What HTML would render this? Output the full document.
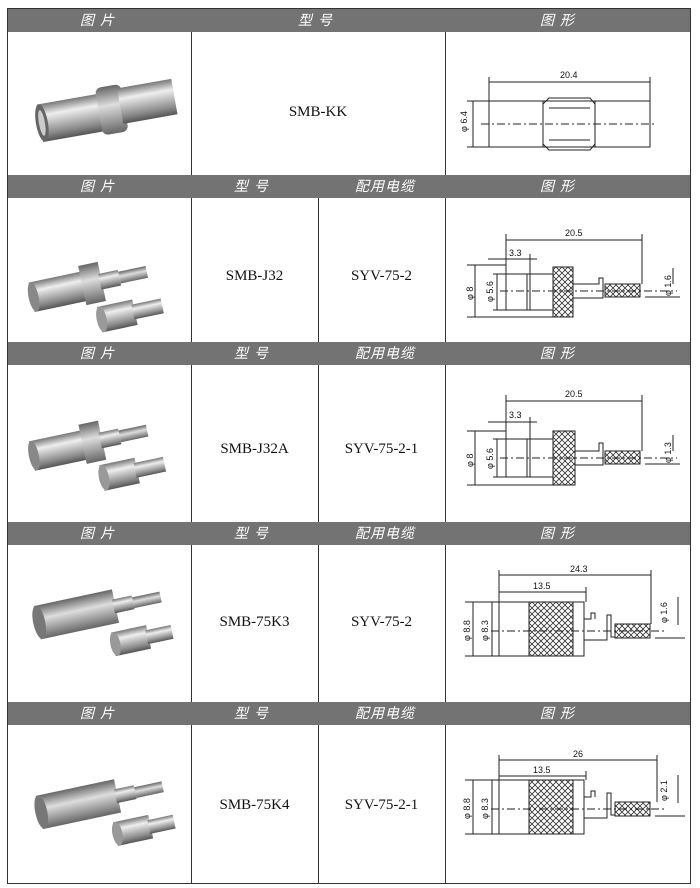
<!DOCTYPE html>
<html><head><meta charset="utf-8"><style>
body{margin:0;width:700px;height:888px;background:#fff;position:relative;overflow:hidden;font-family:"Liberation Serif","Noto Serif CJK SC",serif}
.a{position:absolute;box-sizing:border-box}
.hd{background:#737373;color:#fff;font-family:"Liberation Sans","Noto Sans CJK SC",sans-serif;font-style:italic;font-size:14px;letter-spacing:6px;text-align:center;line-height:22px;height:23px}
.t{font-size:15px;text-align:center;color:#111}
.vl{position:absolute;width:1px;background:#333}
svg text{font-family:"Liberation Sans",sans-serif;font-size:9px;fill:#111}
</style></head><body>
<svg width="0" height="0" style="position:absolute">
<defs>
<pattern id="kn" width="6" height="6" patternUnits="userSpaceOnUse"><rect width="6" height="6" fill="#fff"/><path d="M0 0L6 6M6 0L0 6" stroke="#333" stroke-width="0.8"/></pattern>
<linearGradient id="met" x1="0" y1="0" x2="0" y2="1"><stop offset="0" stop-color="#777"/><stop offset="0.3" stop-color="#eee"/><stop offset="0.55" stop-color="#bbb"/><stop offset="0.8" stop-color="#888"/><stop offset="1" stop-color="#555"/></linearGradient>
<linearGradient id="met2" x1="0" y1="0" x2="0" y2="1"><stop offset="0" stop-color="#666"/><stop offset="0.4" stop-color="#ddd"/><stop offset="1" stop-color="#666"/></linearGradient>
</defs></svg>

<div class="a" style="left:7px;top:8px;width:684px;height:876px;border:1.5px solid #333"></div>

<div class="a hd" style="left:8px;top:9px;width:682px"></div>
<div class="a hd" style="left:8px;top:175px;width:682px"></div>
<div class="a hd" style="left:8px;top:342px;width:682px"></div>
<div class="a hd" style="left:8px;top:522px;width:682px"></div>
<div class="a hd" style="left:8px;top:702px;width:682px"></div>

<div class="a hd" style="left:50px;top:9px;width:100px;background:none">图片</div>
<div class="a hd" style="left:268px;top:9px;width:100px;background:none">型号</div>
<div class="a hd" style="left:510px;top:9px;width:100px;background:none">图形</div>

<div class="a hd" style="left:50px;top:175px;width:100px;background:none">图片</div>
<div class="a hd" style="left:204px;top:175px;width:100px;background:none">型号</div>
<div class="a hd" style="left:330px;top:175px;width:110px;background:none;letter-spacing:1px">配用电缆</div>
<div class="a hd" style="left:510px;top:175px;width:100px;background:none">图形</div>

<div class="a hd" style="left:50px;top:342px;width:100px;background:none">图片</div>
<div class="a hd" style="left:204px;top:342px;width:100px;background:none">型号</div>
<div class="a hd" style="left:330px;top:342px;width:110px;background:none;letter-spacing:1px">配用电缆</div>
<div class="a hd" style="left:510px;top:342px;width:100px;background:none">图形</div>

<div class="a hd" style="left:50px;top:522px;width:100px;background:none">图片</div>
<div class="a hd" style="left:204px;top:522px;width:100px;background:none">型号</div>
<div class="a hd" style="left:330px;top:522px;width:110px;background:none;letter-spacing:1px">配用电缆</div>
<div class="a hd" style="left:510px;top:522px;width:100px;background:none">图形</div>

<div class="a hd" style="left:50px;top:702px;width:100px;background:none">图片</div>
<div class="a hd" style="left:204px;top:702px;width:100px;background:none">型号</div>
<div class="a hd" style="left:330px;top:702px;width:110px;background:none;letter-spacing:1px">配用电缆</div>
<div class="a hd" style="left:510px;top:702px;width:100px;background:none">图形</div>

<div class="vl" style="left:191px;top:32px;height:143px"></div>
<div class="vl" style="left:445px;top:32px;height:143px"></div>
<div class="vl" style="left:191px;top:198px;height:144px"></div>
<div class="vl" style="left:318px;top:198px;height:144px"></div>
<div class="vl" style="left:445px;top:198px;height:144px"></div>
<div class="vl" style="left:191px;top:365px;height:157px"></div>
<div class="vl" style="left:318px;top:365px;height:157px"></div>
<div class="vl" style="left:445px;top:365px;height:157px"></div>
<div class="vl" style="left:191px;top:545px;height:157px"></div>
<div class="vl" style="left:318px;top:545px;height:157px"></div>
<div class="vl" style="left:445px;top:545px;height:157px"></div>
<div class="vl" style="left:191px;top:725px;height:158px"></div>
<div class="vl" style="left:318px;top:725px;height:158px"></div>
<div class="vl" style="left:445px;top:725px;height:158px"></div>

<div class="a t" style="left:191px;top:104px;width:254px">SMB-KK</div>
<div class="a t" style="left:191px;top:268px;width:127px">SMB-J32</div>
<div class="a t" style="left:318px;top:268px;width:127px">SYV-75-2</div>
<div class="a t" style="left:191px;top:441px;width:127px">SMB-J32A</div>
<div class="a t" style="left:318px;top:441px;width:127px">SYV-75-2-1</div>
<div class="a t" style="left:191px;top:614px;width:127px">SMB-75K3</div>
<div class="a t" style="left:318px;top:614px;width:127px">SYV-75-2</div>
<div class="a t" style="left:191px;top:797px;width:127px">SMB-75K4</div>
<div class="a t" style="left:318px;top:797px;width:127px">SYV-75-2-1</div>

<svg class="a" style="left:8px;top:32px" width="183" height="143">
<g transform="rotate(-10 90 75)">
<rect x="30" y="62" width="65" height="38" fill="url(#met)"/>
<rect x="90" y="56" width="26" height="48" rx="6" fill="url(#met2)"/>
<rect x="112" y="60" width="55" height="36" fill="url(#met)"/>
<ellipse cx="32" cy="81" rx="6" ry="19" fill="#666"/>
<ellipse cx="32" cy="81" rx="3" ry="13" fill="#ccc"/>
</g></svg>

<svg class="a" style="left:8px;top:198px" width="183" height="144">
<g transform="rotate(-12 90 75)">
<rect x="20" y="70" width="55" height="30" fill="url(#met)"/>
<rect x="72" y="64" width="20" height="40" fill="url(#met2)"/>
<ellipse cx="22" cy="85" rx="5" ry="15" fill="#888"/>
<rect x="90" y="76" width="20" height="16" fill="url(#met)"/>
<rect x="110" y="78" width="28" height="12" fill="url(#met2)"/>
<rect x="82" y="108" width="36" height="26" fill="url(#met)"/>
<rect x="116" y="113" width="30" height="15" fill="url(#met)"/>
<ellipse cx="84" cy="121" rx="5" ry="13" fill="#999"/>
</g></svg>

<svg class="a" style="left:8px;top:365px" width="183" height="157">
<g transform="rotate(-12 90 75)">
<rect x="22" y="62" width="55" height="30" fill="url(#met)"/>
<rect x="74" y="56" width="20" height="40" fill="url(#met2)"/>
<ellipse cx="24" cy="77" rx="5" ry="15" fill="#888"/>
<rect x="92" y="68" width="20" height="16" fill="url(#met)"/>
<rect x="112" y="70" width="28" height="12" fill="url(#met2)"/>
<rect x="86" y="100" width="36" height="26" fill="url(#met)"/>
<rect x="120" y="105" width="30" height="15" fill="url(#met)"/>
<ellipse cx="88" cy="113" rx="5" ry="13" fill="#999"/>
</g></svg>

<svg class="a" style="left:8px;top:545px" width="183" height="157">
<g transform="rotate(-12 90 75)">
<rect x="30" y="48" width="80" height="34" fill="url(#met2)"/>
<ellipse cx="32" cy="65" rx="6" ry="17" fill="#777"/>
<rect x="108" y="58" width="20" height="14" fill="url(#met)"/>
<rect x="128" y="60" width="28" height="11" fill="url(#met2)"/>
<rect x="100" y="90" width="36" height="24" fill="url(#met)"/>
<rect x="134" y="95" width="26" height="14" fill="url(#met)"/>
<ellipse cx="102" cy="102" rx="5" ry="12" fill="#999"/>
</g></svg>

<svg class="a" style="left:8px;top:725px" width="183" height="158">
<g transform="rotate(-12 90 75)">
<rect x="30" y="58" width="80" height="34" fill="url(#met2)"/>
<ellipse cx="32" cy="75" rx="6" ry="17" fill="#777"/>
<rect x="108" y="68" width="20" height="14" fill="url(#met)"/>
<rect x="128" y="70" width="28" height="11" fill="url(#met2)"/>
<rect x="100" y="100" width="36" height="24" fill="url(#met)"/>
<rect x="134" y="105" width="26" height="14" fill="url(#met)"/>
<ellipse cx="102" cy="112" rx="5" ry="12" fill="#999"/>
</g></svg>

<svg class="a" style="left:445px;top:32px" width="245" height="143" fill="none" stroke="#222" stroke-width="1">
<rect x="44" y="69" width="161" height="46"/>
<line x1="98" y1="69" x2="98" y2="115"/><line x1="150" y1="69" x2="150" y2="115"/>
<path d="M104 66H145L150 72V112L145 118H104L98 112V72Z"/>
<line x1="104" y1="76" x2="145" y2="76"/><line x1="104" y1="108" x2="145" y2="108"/>
<line x1="36" y1="92" x2="212" y2="92" stroke-dasharray="8 3 2 3"/>
<line x1="44" y1="45" x2="44" y2="69"/><line x1="205" y1="45" x2="205" y2="69"/>
<line x1="44" y1="50" x2="205" y2="50"/>
<line x1="22" y1="69" x2="44" y2="69"/><line x1="22" y1="115" x2="44" y2="115"/>
<line x1="28" y1="69" x2="28" y2="115"/>
<text x="115" y="46" stroke="none">20.4</text>
<text x="0" y="0" stroke="none" transform="translate(22 100) rotate(-90)">φ 6.4</text>
</svg>

<svg class="a" style="left:445px;top:198px" width="245" height="144" fill="none" stroke="#222" stroke-width="1">
<rect x="61" y="76" width="47" height="36"/><line x1="82" y1="76" x2="82" y2="112"/><line x1="85" y1="76" x2="85" y2="112"/>
<rect x="108" y="69" width="20" height="50" fill="url(#kn)"/>
<path d="M128 86H154V80H158V100H128"/>
<rect x="160" y="86" width="35" height="13" fill="url(#kn)"/>
<line x1="55" y1="93" x2="232" y2="93" stroke-dasharray="8 3 2 3"/>
<line x1="61" y1="36" x2="61" y2="76"/><line x1="197" y1="36" x2="197" y2="86"/><line x1="61" y1="42" x2="197" y2="42"/>
<line x1="43" y1="61" x2="92" y2="61"/><line x1="85" y1="56" x2="85" y2="76"/>
<line x1="22" y1="67" x2="61" y2="67"/><line x1="22" y1="119" x2="108" y2="119"/><line x1="30" y1="67" x2="30" y2="119"/>
<line x1="48" y1="76" x2="61" y2="76"/><line x1="48" y1="112" x2="61" y2="112"/><line x1="52" y1="76" x2="52" y2="112"/>
<line x1="228" y1="70" x2="228" y2="86"/><line x1="200" y1="99" x2="235" y2="99"/>
<text x="120" y="38" stroke="none">20.5</text><text x="64" y="58" stroke="none">3.3</text>
<text stroke="none" transform="translate(28 102) rotate(-90)">φ 8</text>
<text stroke="none" transform="translate(48 104) rotate(-90)">φ 5.6</text>
<text stroke="none" transform="translate(226 98) rotate(-90)">φ 1.6</text>
</svg>

<svg class="a" style="left:445px;top:365px" width="245" height="157" fill="none" stroke="#222" stroke-width="1">
<rect x="61" y="74" width="47" height="38"/><line x1="82" y1="74" x2="82" y2="112"/><line x1="85" y1="74" x2="85" y2="112"/>
<rect x="108" y="66" width="22" height="54" fill="url(#kn)"/>
<path d="M130 86H154V78H158V100H130"/>
<rect x="160" y="86" width="35" height="13" fill="url(#kn)"/>
<line x1="55" y1="93" x2="232" y2="93" stroke-dasharray="8 3 2 3"/>
<line x1="61" y1="30" x2="61" y2="74"/><line x1="197" y1="30" x2="197" y2="86"/><line x1="61" y1="36" x2="197" y2="36"/>
<line x1="43" y1="57" x2="92" y2="57"/><line x1="85" y1="52" x2="85" y2="74"/>
<line x1="22" y1="66" x2="61" y2="66"/><line x1="22" y1="120" x2="108" y2="120"/><line x1="30" y1="66" x2="30" y2="120"/>
<line x1="48" y1="74" x2="61" y2="74"/><line x1="48" y1="112" x2="61" y2="112"/><line x1="52" y1="74" x2="52" y2="112"/>
<line x1="228" y1="70" x2="228" y2="86"/><line x1="200" y1="99" x2="235" y2="99"/>
<text x="120" y="32" stroke="none">20.5</text><text x="64" y="53" stroke="none">3.3</text>
<text stroke="none" transform="translate(28 102) rotate(-90)">φ 8</text>
<text stroke="none" transform="translate(48 104) rotate(-90)">φ 5.6</text>
<text stroke="none" transform="translate(226 98) rotate(-90)">φ 1.3</text>
</svg>

<svg class="a" style="left:445px;top:545px" width="245" height="157" fill="none" stroke="#222" stroke-width="1">
<rect x="54" y="57" width="85" height="54"/>
<rect x="84" y="57" width="44" height="54" fill="url(#kn)"/>
<path d="M139 74H146V68H150V74M139 95H162V70H166V92H170"/>
<rect x="170" y="79" width="35" height="14" fill="url(#kn)"/>
<line x1="46" y1="86" x2="222" y2="86" stroke-dasharray="8 3 2 3"/>
<line x1="54" y1="25" x2="54" y2="57"/><line x1="206" y1="25" x2="206" y2="79"/><line x1="54" y1="30" x2="206" y2="30"/>
<line x1="141" y1="42" x2="141" y2="57"/><line x1="54" y1="47" x2="141" y2="47"/>
<line x1="20" y1="57" x2="54" y2="57"/><line x1="20" y1="111" x2="54" y2="111"/><line x1="28" y1="57" x2="28" y2="111"/>
<line x1="47" y1="57" x2="47" y2="111"/>
<line x1="233" y1="52" x2="233" y2="80"/><line x1="210" y1="93" x2="240" y2="93"/>
<text x="125" y="27" stroke="none">24.3</text><text x="88" y="44" stroke="none">13.5</text>
<text stroke="none" transform="translate(25 96) rotate(-90)">φ 8.8</text>
<text stroke="none" transform="translate(43 96) rotate(-90)">φ 8.3</text>
<text stroke="none" transform="translate(222 78) rotate(-90)">φ 1.6</text>
</svg>

<svg class="a" style="left:445px;top:725px" width="245" height="158" fill="none" stroke="#222" stroke-width="1">
<rect x="54" y="55" width="85" height="54"/>
<rect x="84" y="55" width="44" height="54" fill="url(#kn)"/>
<path d="M139 72H146V66H150V72M139 93H162V68H166V90H170"/>
<rect x="170" y="77" width="35" height="14" fill="url(#kn)"/>
<line x1="46" y1="84" x2="222" y2="84" stroke-dasharray="8 3 2 3"/>
<line x1="54" y1="30" x2="54" y2="55"/><line x1="212" y1="30" x2="212" y2="77"/><line x1="54" y1="35" x2="212" y2="35"/>
<line x1="141" y1="46" x2="141" y2="55"/><line x1="54" y1="51" x2="141" y2="51"/>
<line x1="20" y1="55" x2="54" y2="55"/><line x1="20" y1="109" x2="54" y2="109"/><line x1="28" y1="55" x2="28" y2="109"/>
<line x1="47" y1="55" x2="47" y2="109"/>
<line x1="233" y1="50" x2="233" y2="78"/><line x1="210" y1="91" x2="240" y2="91"/>
<text x="128" y="32" stroke="none">26</text><text x="88" y="48" stroke="none">13.5</text>
<text stroke="none" transform="translate(25 94) rotate(-90)">φ 8.8</text>
<text stroke="none" transform="translate(43 94) rotate(-90)">φ 8.3</text>
<text stroke="none" transform="translate(222 76) rotate(-90)">φ 2.1</text>
</svg>
</body></html>
